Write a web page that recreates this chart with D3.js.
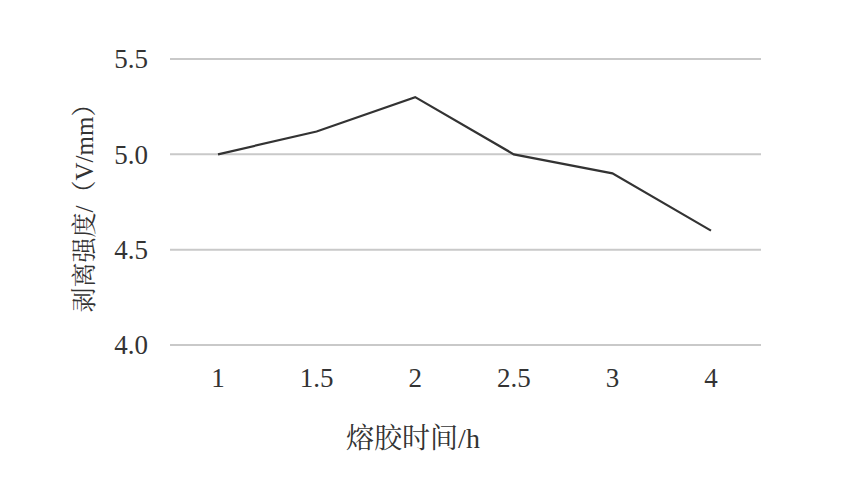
<!DOCTYPE html>
<html><head><meta charset="utf-8">
<script src="https://cdn.jsdelivr.net/npm/d3@7"></script>
<style>body{margin:0;background:#fff}</style>
</head><body>
<script>
const categories = ["1", "1.5", "2", "2.5", "3", "4"];
const values = [5.0, 5.12, 5.3, 5.0, 4.9, 4.6];
const yTicks = [4.0, 4.5, 5.0, 5.5];
const xTitle = "熔胶时间/h";
const yTitle = "剥离强度/（V/mm）";

(function () {
const W = 860, H = 489;
const svg = d3.select("body").append("svg").attr("width", W).attr("height", H);
const mLeft = 170, mRight = 761, mTop = 59, mBottom = 345;

const x = d3.scalePoint().domain(categories).range([218, 711]);
const y = d3.scaleLinear().domain([4.0, 5.5]).range([mBottom, mTop]);

const serif = "'Liberation Serif','Times New Roman',serif";
const mixed = "'Liberation Serif','Noto Serif CJK SC','Noto Sans CJK SC',serif";

svg.append("g").selectAll("line").data(yTicks).join("line")
  .attr("x1", mLeft).attr("x2", mRight)
  .attr("y1", d => y(d)).attr("y2", d => y(d))
  .attr("stroke", "#c9c9c9").attr("stroke-width", 2);

svg.append("g").selectAll("text").data(yTicks).join("text")
  .attr("x", 148).attr("y", d => y(d)).attr("dy", "0.35em")
  .attr("text-anchor", "end").attr("font-family", serif).attr("font-size", 27)
  .attr("fill", "#333").text(d => d.toFixed(1));

svg.append("g").selectAll("text").data(categories).join("text")
  .attr("x", d => x(d)).attr("y", 378).attr("dy", "0.35em")
  .attr("text-anchor", "middle").attr("font-family", serif).attr("font-size", 27)
  .attr("fill", "#333").text(d => d);

const line = d3.line().x((d, i) => x(categories[i])).y(d => y(d));
svg.append("path").datum(values).attr("d", line)
  .attr("fill", "none").attr("stroke", "#333").attr("stroke-width", 2.2)
  .attr("stroke-linejoin", "miter");

svg.append("text").attr("x", 413).attr("y", 438).attr("dy", "0.35em")
  .attr("text-anchor", "middle").attr("font-family", mixed)
  .attr("font-size", 28).attr("fill", "#333").text(xTitle);

svg.append("text").attr("transform", "translate(84,202) rotate(-90)")
  .attr("dy", "0.35em").attr("text-anchor", "middle")
  .attr("font-family", mixed)
  .attr("font-size", 25).attr("fill", "#333").text(yTitle);
})();
</script>
</body></html>
